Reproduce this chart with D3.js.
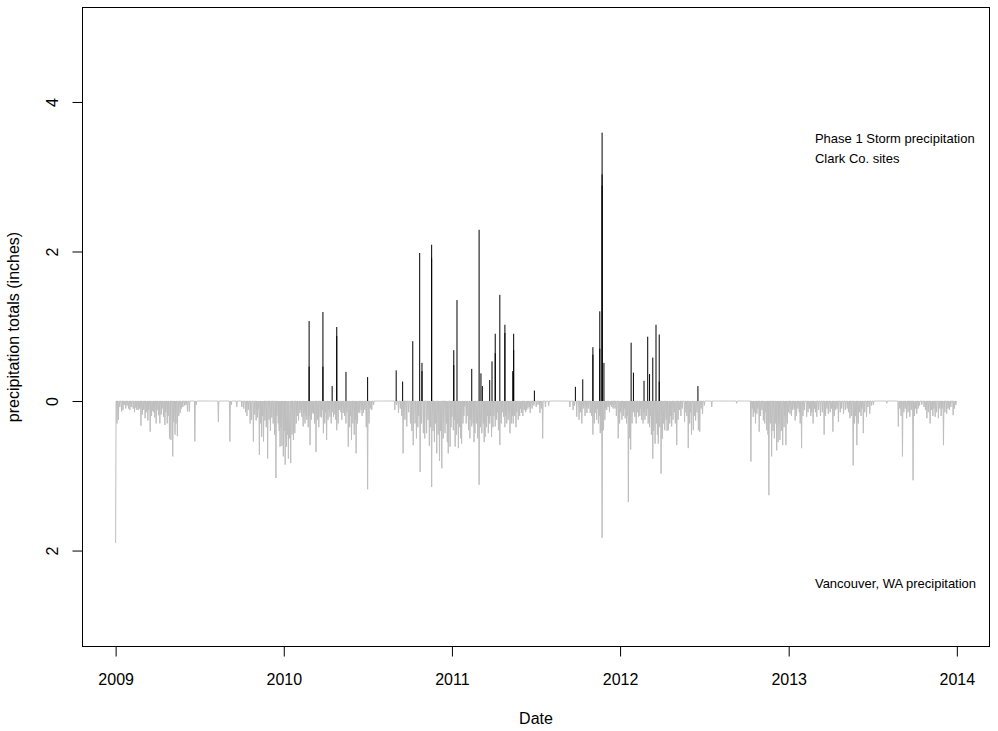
<!DOCTYPE html>
<html><head><meta charset="utf-8">
<script src="https://cdn.jsdelivr.net/npm/d3@7/dist/d3.min.js"></script>
<style>
body{margin:0;background:#fff}
svg{display:block}
text{font-family:Arial,"Liberation Sans",Helvetica,sans-serif;fill:#000}
</style></head>
<body><svg id="chart" width="998" height="731"></svg>
<script>
// ---------------- data ----------------
const seriesStart = "2009-01-01";   // first day of the Vancouver daily record
const seriesEnd   = "2013-12-31";
const yearTicks   = ["2009","2010","2011","2012","2013","2014"];
const yTickValues = [-2, 0, 2, 4];
const xLabel = "Date";
const yLabel = "precipitation totals (inches)";
const stormLabel = ["Phase 1 Storm precipitation", "Clark Co. sites"];
const vancouverLabel = "Vancouver, WA precipitation";

// Phase 1 storm precipitation, Clark Co. sites (inches)
const stormDates = ["2010-02-25","2010-02-25","2010-03-27","2010-03-27","2010-04-16","2010-04-26","2010-04-26",
  "2010-05-16","2010-07-02","2010-09-02","2010-09-16","2010-10-08","2010-10-23","2010-10-28","2010-10-28",
  "2010-11-18","2010-11-18","2011-01-05","2011-01-05","2011-01-12","2011-02-13","2011-03-01","2011-03-05",
  "2011-03-08","2011-03-24","2011-03-29","2011-04-05","2011-04-05","2011-04-15","2011-04-26","2011-04-26",
  "2011-05-13","2011-05-15","2011-05-15","2011-06-29","2011-09-26","2011-10-12","2011-11-03","2011-11-03",
  "2011-11-18","2011-11-18","2011-11-23","2011-11-23","2011-11-23","2011-11-27","2012-01-25","2012-01-30",
  "2012-02-22","2012-03-01","2012-03-05","2012-03-12","2012-03-19","2012-03-26","2012-03-26","2012-06-18"];
const stormInches = [1.07,0.46,1.19,0.46,0.20,0.99,0.87,
  0.39,0.32,0.41,0.26,0.80,1.98,0.51,0.40,
  2.09,1.91,0.68,0.48,1.35,0.43,2.29,0.37,
  0.20,0.28,0.53,0.90,0.64,1.42,1.02,0.91,
  0.40,0.90,0.68,0.14,0.19,0.29,0.72,0.62,
  1.20,0.70,3.59,3.03,2.88,0.51,0.78,0.38,
  0.27,0.86,0.36,0.58,1.02,0.89,0.26,0.20];

// Vancouver, WA daily precipitation: [days after seriesStart, inches]; days not listed had 0
const vancouverWet2009 = [[0,1.90],[3,0.30],[6,0.25],[9,0.08],[13,0.14],[16,0.12],[19,0.05],[22,0.10],[25,0.06],[28,0.10],
  [31,0.12],[34,0.08],[38,0.10],[41,0.15],[44,0.09],[46,0.12],[49,0.12],[52,0.10],[55,0.33],[58,0.18],[61,0.12],[64,0.23],
  [67,0.15],[70,0.26],[72,0.12],[75,0.41],[78,0.20],[80,0.13],[83,0.15],[85,0.22],[88,0.30],[90,0.12],[93,0.19],[96,0.30],
  [99,0.18],[101,0.10],[104,0.21],[107,0.32],[109,0.15],[112,0.30],[114,0.20],[117,0.50],[120,0.52],[124,0.74],[126,0.28],
  [129,0.45],[131,0.30],[134,0.47],[137,0.20],[140,0.16],[143,0.10],[146,0.08],[150,0.06],[153,0.05],[156,0.14],[160,0.14],
  [172,0.54],[175,0.05]];
const vancouverWet2010 = [[223,0.28],[248,0.54],[251,0.05],[263,0.08],[274,0.08],[278,0.10],[282,0.15],[285,0.20],[288,0.12],
  [292,0.30],[295,0.25],[299,0.54],[302,0.18],[305,0.26],[308,0.22],[310,0.10],[312,0.72],[315,0.30],[317,0.48],[319,0.20],
  [321,0.54],[324,0.26],[327,0.35],[330,0.77],[333,0.25],[336,0.40],[339,0.22],[342,0.30],[345,0.45],[348,1.03],[350,0.20],
  [353,0.30],[355,0.40],[357,0.61],[359,0.35],[361,0.60],[364,0.74],[366,0.40],[368,0.85],[371,0.61],[373,0.45],[375,0.77],
  [377,0.50],[378,0.30],[380,0.83],[383,0.45],[386,0.52],[389,0.43],[392,0.30],[394,0.20],[397,0.26],[400,0.16],[402,0.12],
  [404,0.21],[407,0.34],[409,0.15],[411,0.30],[413,0.20],[415,0.25],[418,0.35],[420,0.20],[422,0.59],[425,0.25],[427,0.15],
  [429,0.17],[432,0.30],[435,0.68],[438,0.25],[441,0.35],[444,0.21],[447,0.22],[449,0.12],[451,0.43],[454,0.30],[456,0.15],
  [458,0.52],[461,0.25],[463,0.12],[465,0.21],[468,0.30],[470,0.15],[473,0.21],[476,0.18],[478,0.25],[480,0.39],[483,0.30],
  [486,0.12],[489,0.15],[491,0.25],[494,0.16],[497,0.20],[500,0.30],[502,0.15],[505,0.61],[508,0.35],[510,0.20],[512,0.52],
  [515,0.30],[518,0.45],[520,0.25],[522,0.70],[525,0.30],[527,0.15],[530,0.16],[533,0.12],[535,0.20],[538,0.16],[541,0.12],
  [544,0.35],[547,1.18],[550,0.30],[553,0.10],[556,0.12],[560,0.05]];
const vancouverWet2011 = [[606,0.12],[610,0.05],[614,0.16],[618,0.10],[621,0.20],[624,0.70],[628,0.25],[632,0.34],[636,0.15],
  [640,0.30],[643,0.40],[646,0.59],[650,0.30],[653,0.50],[656,0.35],[658,0.20],[661,0.95],[664,0.30],[668,0.43],[671,0.50],
  [675,0.43],[678,0.25],[681,0.60],[683,0.35],[686,1.15],[689,0.40],[692,0.55],[694,0.30],[697,0.70],[700,0.45],[703,0.80],
  [705,0.40],[708,0.90],[711,0.50],[715,0.43],[718,0.30],[720,0.55],[722,0.70],[726,0.61],[728,0.35],[730,0.21],[733,0.39],
  [735,0.25],[737,0.61],[740,0.45],[742,0.30],[744,0.63],[747,0.35],[749,0.50],[751,0.57],[754,0.30],[756,0.20],[758,0.07],
  [761,0.30],[763,0.20],[766,0.39],[769,0.50],[771,0.25],[773,0.34],[776,0.30],[778,0.55],[780,0.43],[783,0.30],[786,0.50],
  [789,1.12],[792,0.35],[795,0.43],[798,0.30],[800,0.55],[802,0.48],[805,0.35],[807,0.20],[809,0.43],[812,0.30],[814,0.20],
  [816,0.48],[819,0.35],[821,0.20],[824,0.34],[827,0.25],[829,0.15],[831,0.39],[834,0.59],[837,0.30],[839,0.15],[842,0.21],
  [845,0.35],[847,0.20],[849,0.30],[852,0.25],[854,0.15],[856,0.43],[859,0.30],[861,0.20],[863,0.30],[866,0.20],[869,0.35],
  [871,0.15],[874,0.25],[877,0.20],[879,0.10],[881,0.16],[884,0.20],[887,0.12],[890,0.15],[892,0.12],[895,0.10],[898,0.08],
  [900,0.16],[904,0.10],[908,0.06],[913,0.08],[917,0.05],[921,0.16],[924,0.10],[927,0.50],[933,0.08],[940,0.06]];
const vancouverWet2012 = [[986,0.08],[993,0.12],[996,0.06],[1001,0.21],[1006,0.25],[1009,0.15],[1012,0.30],[1015,0.10],
  [1019,0.20],[1023,0.16],[1026,0.10],[1030,0.16],[1033,0.20],[1036,0.45],[1039,0.30],[1041,0.16],[1044,0.25],[1046,0.10],
  [1048,0.30],[1050,0.20],[1052,0.43],[1054,0.40],[1056,1.83],[1059,0.39],[1062,0.25],[1064,0.10],[1066,0.12],[1069,0.08],
  [1072,0.15],[1074,0.05],[1077,0.08],[1080,0.10],[1084,0.10],[1087,0.20],[1091,0.50],[1094,0.30],[1096,0.15],[1099,0.25],
  [1102,0.20],[1104,0.10],[1106,0.23],[1109,0.30],[1111,0.20],[1113,1.35],[1116,0.50],[1118,0.65],[1121,0.30],[1124,0.15],
  [1127,0.21],[1130,0.30],[1132,0.15],[1135,0.21],[1138,0.20],[1140,0.10],[1142,0.25],[1145,0.30],[1147,0.15],[1149,0.25],
  [1152,0.20],[1154,0.10],[1156,0.30],[1159,0.35],[1161,0.20],[1163,0.45],[1166,0.77],[1168,0.40],[1171,0.57],[1174,0.30],
  [1176,0.45],[1178,0.57],[1181,0.35],[1184,0.97],[1187,0.50],[1189,0.30],[1192,0.39],[1195,0.25],[1197,0.40],[1200,0.39],
  [1203,0.30],[1205,0.20],[1207,0.34],[1210,0.25],[1213,0.15],[1215,0.30],[1218,0.59],[1221,0.25],[1224,0.12],[1227,0.20],
  [1230,0.10],[1235,0.28],[1238,0.15],[1240,0.20],[1243,0.63],[1246,0.30],[1248,0.15],[1250,0.45],[1254,0.39],[1256,0.20],
  [1259,0.26],[1262,0.15],[1265,0.39],[1268,0.41],[1271,0.10],[1274,0.17],[1278,0.06],[1294,0.08],[1348,0.03]];
const vancouverWet2013 = [[1379,0.81],[1382,0.10],[1384,0.21],[1387,0.15],[1389,0.30],[1392,0.17],[1394,0.10],[1397,0.41],
  [1400,0.20],[1403,0.12],[1406,0.26],[1409,0.30],[1411,0.15],[1413,0.39],[1416,0.45],[1418,1.26],[1421,0.30],[1424,0.74],
  [1427,0.40],[1430,0.50],[1433,0.30],[1435,0.66],[1438,0.55],[1440,0.30],[1442,0.52],[1445,0.40],[1448,0.59],[1451,0.35],
  [1453,0.20],[1455,0.59],[1458,0.30],[1461,0.15],[1464,0.17],[1467,0.20],[1470,0.12],[1473,0.10],[1475,0.26],[1478,0.20],
  [1481,0.10],[1484,0.15],[1486,0.30],[1489,0.63],[1492,0.20],[1495,0.12],[1500,0.21],[1503,0.15],[1506,0.10],[1509,0.20],
  [1511,0.15],[1514,0.30],[1517,0.10],[1519,0.15],[1522,0.21],[1526,0.12],[1530,0.20],[1534,0.15],[1538,0.45],[1541,0.20],
  [1544,0.10],[1547,0.17],[1551,0.15],[1554,0.10],[1557,0.41],[1560,0.20],[1563,0.12],[1566,0.10],[1569,0.28],[1573,0.15],
  [1576,0.10],[1580,0.17],[1584,0.12],[1588,0.10],[1591,0.15],[1594,0.23],[1597,0.20],[1601,0.86],[1604,0.30],[1606,0.20],
  [1609,0.59],[1612,0.30],[1615,0.15],[1618,0.20],[1620,0.10],[1623,0.43],[1626,0.15],[1630,0.21],[1633,0.08],[1637,0.17],
  [1641,0.06],[1645,0.05],[1674,0.03],
  [1699,0.34],[1702,0.10],[1705,0.20],[1708,0.74],[1711,0.15],[1714,0.10],[1717,0.23],[1720,0.15],[1724,0.21],[1727,0.12],
  [1731,1.06],[1734,0.20],[1736,0.10],[1739,0.17],[1742,0.10],[1745,0.06],[1750,0.05],[1755,0.08],[1758,0.12],[1761,0.23],
  [1764,0.15],[1768,0.30],[1771,0.12],[1774,0.20],[1776,0.10],[1779,0.21],[1782,0.15],[1786,0.23],[1789,0.10],[1792,0.20],
  [1794,0.10],[1797,0.59],[1800,0.15],[1804,0.17],[1807,0.10],[1810,0.12],[1813,0.08],[1818,0.19],[1821,0.10],[1824,0.05]];

// ---------------- layout ----------------
const W = 998, H = 731;
const box = {left: 82, right: 990, top: 7, bottom: 647};
const svg = d3.select("#chart");
const parse = d3.utcParse("%Y-%m-%d");
const t0 = parse(seriesStart), t1 = parse(seriesEnd);
const DAY = 864e5;
const pad = (t1 - t0) * 0.04;   // R style 4% range extension
const x = d3.scaleUtc().domain([new Date(+t0 - pad), new Date(+t1 + pad)]).range([box.left, box.right]);
const y = d3.scaleLinear().domain([-3.29, 5.27]).range([box.bottom, box.top]);

// daily series
const nDays = Math.round((t1 - t0) / DAY) + 1;
const daily = new Array(nDays).fill(0);
[vancouverWet2009, vancouverWet2010, vancouverWet2011, vancouverWet2012, vancouverWet2013]
  .forEach(arr => arr.forEach(([d, v]) => { daily[d] = v; }));

svg.append("rect").attr("width", W).attr("height", H).attr("fill", "#fff");

const plot = svg.append("g");
const line = d3.line().x((v, i) => x(new Date(+t0 + i * DAY))).y(v => y(-v));
plot.append("path").datum(daily).attr("d", line)
  .attr("fill", "none").attr("stroke", "#BEBEBE").attr("stroke-width", 1);

plot.selectAll("line.storm").data(stormDates.map((d, i) => ({t: parse(d), v: stormInches[i]})))
  .enter().append("line").attr("class", "storm")
  .attr("x1", d => x(d.t)).attr("x2", d => x(d.t))
  .attr("y1", y(0)).attr("y2", d => y(d.v))
  .attr("stroke", "#000").attr("stroke-width", 1);

// box
svg.append("rect").attr("x", box.left + 0.5).attr("y", box.top + 0.5)
  .attr("width", box.right - box.left - 1).attr("height", box.bottom - box.top - 1)
  .attr("fill", "none").attr("stroke", "#000").attr("stroke-width", 1);

// x axis
const xTickDates = yearTicks.map(yv => parse(yv + "-01-01"));
const xAxis = d3.axisBottom(x).tickValues(xTickDates).tickFormat(d3.utcFormat("%Y"))
  .tickSize(10).tickPadding(18);
const gx = svg.append("g").attr("transform", `translate(0,${box.bottom - 0.5})`).call(xAxis);
gx.select(".domain").attr("d", `M${x(xTickDates[0])},0H${x(xTickDates[xTickDates.length-1])}`);
gx.selectAll("text").attr("font-size", 16).attr("font-family", "Arial, 'Liberation Sans', sans-serif")
  .attr("dy", null).attr("y", 38);

// y axis
const yAxis = d3.axisLeft(y).tickValues(yTickValues).tickFormat(v => Math.abs(v)).tickSize(10);
const gy = svg.append("g").attr("transform", `translate(${box.left + 0.5},0)`).call(yAxis);
gy.select(".domain").attr("d", `M0,${y(yTickValues[0])}V${y(yTickValues[yTickValues.length-1])}`);
gy.selectAll("text").attr("font-size", 16).attr("font-family", "Arial, 'Liberation Sans', sans-serif")
  .attr("x", null).attr("dy", null).attr("text-anchor", "middle")
  .attr("transform", "translate(-25,0) rotate(-90)").attr("y", 0);

// axis titles
svg.append("text").attr("x", (box.left + box.right) / 2).attr("y", 724)
  .attr("text-anchor", "middle").attr("font-size", 16).text(xLabel);
svg.append("text").attr("transform", `translate(19,${(box.top + box.bottom) / 2}) rotate(-90)`)
  .attr("text-anchor", "middle").attr("font-size", 16).text(yLabel);

// annotations
const annX = x(parse("2013-02-27"));
svg.append("text").attr("x", annX).attr("y", y(3.52) + 5).attr("font-size", 13).text(stormLabel[0]);
svg.append("text").attr("x", annX).attr("y", y(3.25) + 5).attr("font-size", 13).text(stormLabel[1]);
svg.append("text").attr("x", annX).attr("y", y(-2.43) + 5).attr("font-size", 13).text(vancouverLabel);
</script></body></html>
